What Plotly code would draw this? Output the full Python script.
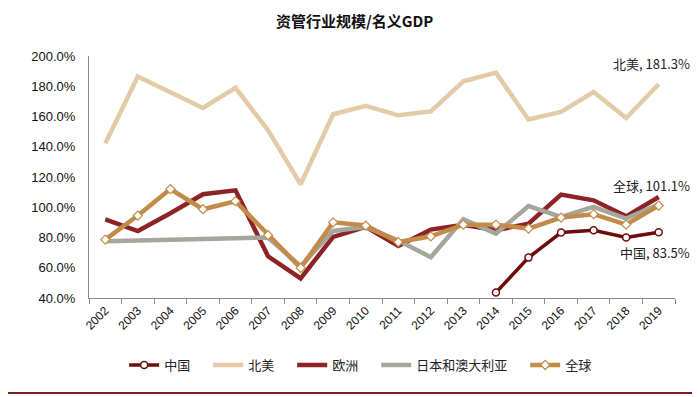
import plotly.graph_objects as go

years = [str(y) for y in range(2002, 2020)]
north_america = [142.1, 186.5, 176.0, 165.6, 179.0, 150.9, 115.2, 161.5, 167.0, 160.8, 163.4, 183.3, 189.0, 158.0, 163.0, 176.2, 159.0, 181.3]
europe = [92.0, 84.3, 96.0, 108.6, 111.2, 67.6, 53.0, 80.4, 87.0, 74.4, 85.2, 88.4, 84.8, 89.2, 108.4, 104.6, 94.0, 106.8]
japan_aus = [77.5, 78.0, 78.5, 79.0, 79.5, 80.0, 61.0, 84.3, 87.0, 78.0, 67.0, 92.0, 82.6, 100.8, 93.6, 100.2, 92.5, 102.0]
global_ = [78.6, 94.5, 112.0, 98.7, 104.0, 81.5, 59.9, 90.0, 87.9, 77.0, 80.8, 88.5, 88.5, 85.9, 93.2, 95.4, 88.5, 101.1]
china = [None]*12 + [43.6, 66.7, 83.3, 84.8, 80.0, 83.5]

C_CN = "#6E0B0B"
C_NA = "#E3CBA8"
C_EU = "#8E2325"
C_JA = "#A5A69C"
C_GL = "#C38B4A"

PAD = "\u3000"
fig = go.Figure()
fig.add_trace(go.Scatter(x=years, y=china, name="中国" + PAD, mode="lines+markers",
                         line=dict(color=C_CN, width=3.5),
                         marker=dict(symbol="circle", size=7, color="white", line=dict(color=C_CN, width=1.5))))
fig.add_trace(go.Scatter(x=years, y=north_america, name="北美" + PAD, mode="lines",
                         line=dict(color=C_NA, width=4.5)))
fig.add_trace(go.Scatter(x=years, y=europe, name="欧洲" + PAD, mode="lines",
                         line=dict(color=C_EU, width=4.5)))
fig.add_trace(go.Scatter(x=years, y=japan_aus, name="日本和澳大利亚" + PAD, mode="lines",
                         line=dict(color=C_JA, width=4.5)))
fig.add_trace(go.Scatter(x=years, y=global_, name="全球", mode="lines+markers",
                         line=dict(color=C_GL, width=4.5),
                         marker=dict(symbol="diamond", size=7, color="white", line=dict(color=C_GL, width=1.2))))

last = len(years) - 1
ann_font = dict(family="Noto Sans CJK SC", size=13, color="#222222")
fig.add_annotation(x=last, y=north_america[-1], text="北美, 181.3%", showarrow=False,
                   xanchor="right", yanchor="middle", xshift=33, yshift=21, font=ann_font)
fig.add_annotation(x=last, y=global_[-1], text="全球, 101.1%", showarrow=False,
                   xanchor="right", yanchor="middle", xshift=33, yshift=20, font=ann_font)
fig.add_annotation(x=last, y=china[-1], text="中国, 83.5%", showarrow=False,
                   xanchor="right", yanchor="middle", xshift=33, yshift=-20, font=ann_font)

fig.add_shape(type="line", xref="paper", yref="paper", x0=-81/586, x1=611/586,
              y0=-0.393, y1=-0.393, line=dict(color="#7B1F1F", width=2))

fig.update_layout(
    width=692, height=389,
    margin=dict(l=81, r=25, t=48, b=99, autoexpand=False),
    plot_bgcolor="white", paper_bgcolor="white",
    title=dict(text="<b>资管行业规模/名义GDP</b>", x=0.501, xanchor="center", y=0.964, yanchor="middle",
               font=dict(family="Noto Sans CJK SC", size=15, color="#111111")),
    xaxis=dict(type="category", range=[-0.5, 17.5], showgrid=False, showline=True,
               linecolor="#888888", linewidth=1, ticks="outside", ticklen=5, tickcolor="#888888",
               tickson="boundaries", tickangle=-45, tickmode="array", tickvals=years, ticktext=years,
               tickfont=dict(family="Liberation Sans Narrow, Liberation Sans", size=12, color="#111111")),
    yaxis=dict(range=[40, 200], dtick=20, tickformat=".1f", ticksuffix="%", showgrid=False,
               showline=True, linecolor="#888888", linewidth=1, zeroline=False, ticks="",
               ticklabelstandoff=10,
               tickfont=dict(family="Liberation Sans Narrow, Liberation Sans", size=13, color="#111111")),
    legend=dict(orientation="h", x=0.06, xanchor="left", y=-0.277, yanchor="middle",
                font=dict(family="Noto Sans CJK SC", size=13, color="#222222")),
    showlegend=True,
)

fig.write_html("out.html")
